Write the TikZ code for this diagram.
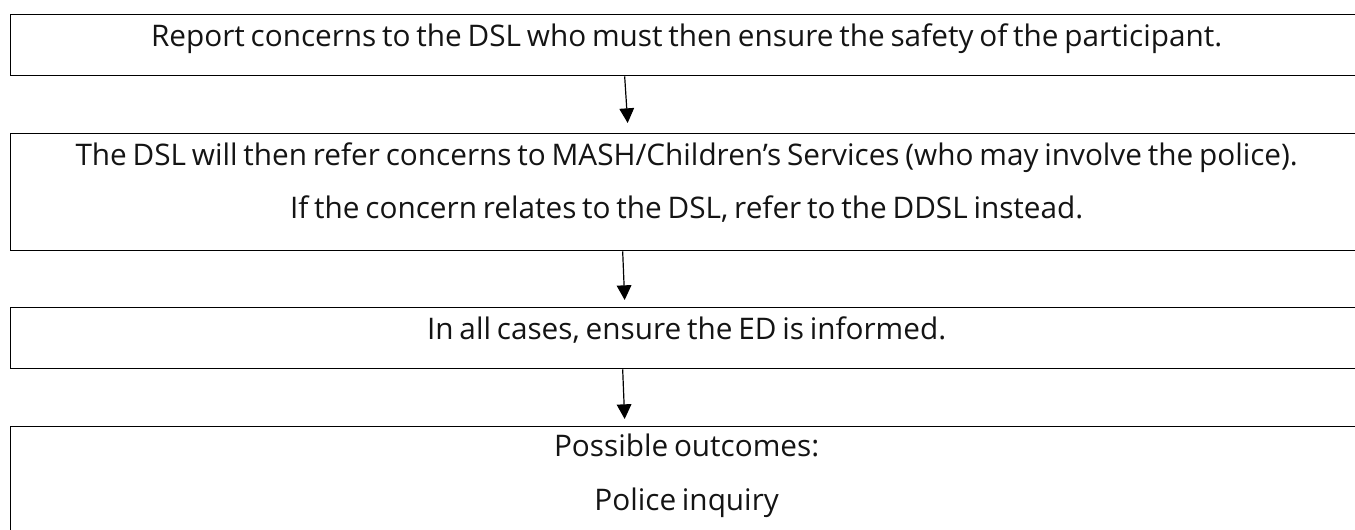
\documentclass[tikz,border=0pt]{standalone}
\usepackage{fontspec}
\setmainfont[WordSpace=0.75]{Open Sans}
\usetikzlibrary{arrows.meta,calc}
\begin{document}
\begin{tikzpicture}[x=0.75pt,y=-0.75pt,
  stepbox/.style={draw=black,line width=1pt,rectangle,inner sep=0pt,
    minimum width=1014pt,anchor=north west},
  lbl/.style={anchor=base,inner sep=0pt,text=black!92,font=\fontsize{22.3pt}{27pt}\selectfont},
  flow/.style={draw=black,line width=0.9pt,-{Triangle[width=11pt,length=11pt]}}]
\useasboundingbox (0,0) rectangle (1355,529);

% boxes
\node[stepbox,minimum height=45.75pt] (b1) at (10,14) {};
\node[stepbox,minimum height=87.75pt] (b2) at (10,133) {};
\node[stepbox,minimum height=45.75pt] (b3) at (10,307) {};
\node[stepbox,minimum height=97.5pt]  (b4) at (10,426) {};

% texts
\node[lbl] (t1) at ($(b1.north)+(0,32)$) {Report concerns to the DSL who must then ensure the safety of the participant.};
\node[lbl] (t2a) at ($(b2.north)+(0,32)$) {The DSL will then refer concerns to MASH/Children’s Services (who may involve the police).};
\node[lbl] (t2b) at ($(b2.north)+(0,85)$) {If the concern relates to the DSL, refer to the DDSL instead.};
\node[lbl] (t3) at ($(b3.north)+(0,32)$) {In all cases, ensure the ED is informed.};
\node[lbl] (t4a) at ($(b4.north)+(0,30)$) {Possible outcomes:};
\node[lbl] (t4b) at ($(b4.north)+(0,84)$) {Police inquiry};

% connectors
\draw[flow] ([xshift=-46.5pt]b1.south) -- ([xshift=-44.25pt,yshift=7.5pt]b2.north);
\draw[flow] ([xshift=-48pt]b2.south) -- ([xshift=-46.5pt,yshift=5.25pt]b3.north);
\draw[flow] ([xshift=-48pt]b3.south) -- ([xshift=-46.5pt,yshift=5.25pt]b4.north);
\end{tikzpicture}
\end{document}
